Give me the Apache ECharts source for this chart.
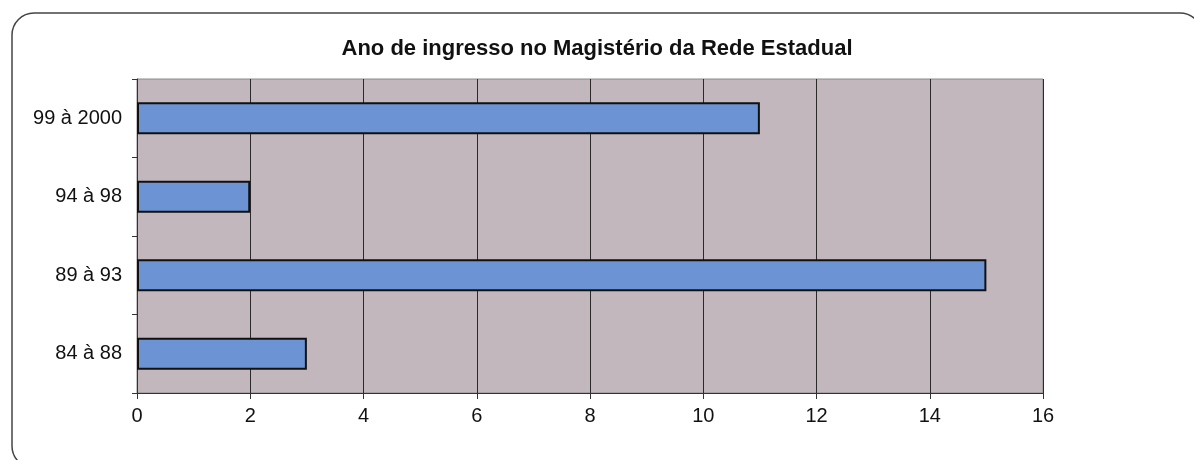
<!DOCTYPE html>
<html>
<head>
<meta charset="utf-8">
<script src="https://cdn.jsdelivr.net/npm/echarts@6/dist/echarts.min.js"></script>
<style>
  html, body { margin: 0; padding: 0; background: #fff; }
  #chart { width: 1194px; height: 460px; }
</style>
</head>
<body>
<div id="chart"></div>
<script>
// data
var titleText = 'Ano de ingresso no Magistério da Rede Estadual'
var categories = ['84 à 88', '89 à 93', '94 à 98', '99 à 2000']
var values = [3, 15, 2, 11]
var xTicks = { min: 0, max: 16, step: 2 }

var chart = echarts.init(document.getElementById('chart'))
chart.setOption({
  animation: false,
  backgroundColor: '#ffffff',
  graphic: [
    {
      type: 'rect',
      shape: { x: 12, y: 13, width: 1190, height: 455, r: 22 },
      style: { fill: 'none', stroke: '#444', lineWidth: 1.5 },
      z: -1
    }
  ],
  title: {
    text: titleText,
    left: 'center',
    top: 33,
    textStyle: {
      fontFamily: 'Liberation Sans, Arial, sans-serif',
      fontWeight: 'bold',
      fontSize: 22,
      color: '#111'
    }
  },
  grid: {
    left: 137,
    right: 151,
    top: 79,
    bottom: 67,
    show: true,
    backgroundColor: '#c1b7bd',
    borderColor: '#8a8a8a',
    borderWidth: 1
  },
  xAxis: {
    type: 'value',
    min: xTicks.min,
    max: xTicks.max,
    interval: xTicks.step,
    axisLine: { show: true, lineStyle: { color: '#333', width: 1 } },
    axisTick: { show: true, length: 6, lineStyle: { color: '#333' } },
    splitLine: { show: true, lineStyle: { color: '#2a2a2a', width: 1 } },
    axisLabel: {
      margin: 13,
      fontFamily: 'Liberation Sans, Arial, sans-serif',
      fontSize: 20,
      color: '#111'
    }
  },
  yAxis: {
    type: 'category',
    data: categories,
    axisLine: { show: true, lineStyle: { color: '#333', width: 1 } },
    axisTick: { show: true, length: 5, lineStyle: { color: '#333' } },
    splitLine: { show: false },
    axisLabel: {
      margin: 15,
      fontFamily: 'Liberation Sans, Arial, sans-serif',
      fontSize: 20,
      color: '#111'
    }
  },
  series: [
    {
      type: 'bar',
      data: values,
      barWidth: 32,
      itemStyle: {
        color: '#6c93d4',
        borderColor: '#111',
        borderWidth: 2
      }
    }
  ]
})
</script>
</body>
</html>
